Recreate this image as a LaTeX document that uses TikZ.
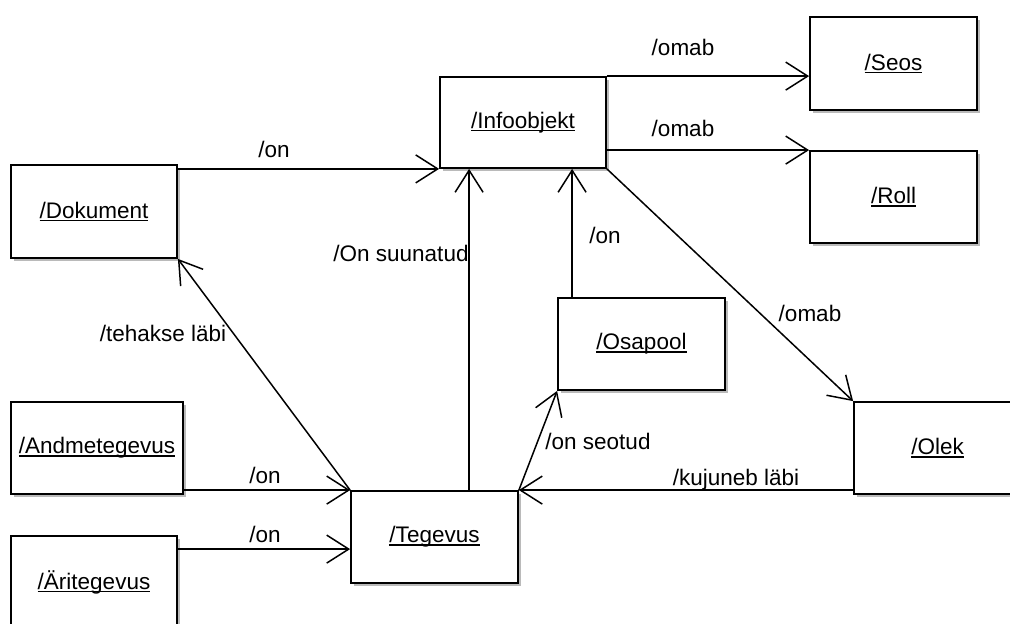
\documentclass[tikz,border=0pt]{standalone}
\usepackage{fontspec}
\setmainfont{Liberation Sans}
\usetikzlibrary{arrows.meta,shadows}

% underlined class name with a fixed rule depth
\newcommand\ulbl[1]{\setbox0=\hbox{#1}\rlap{\rule[-2.8pt]{\wd0}{1.4pt}}\box0}

\tikzset{
  cls/.style={draw, line width=1.8pt, fill=white, minimum height=92pt,
    minimum width=167pt, inner sep=0pt,
    font=\fontsize{22.5}{26}\selectfont,
    drop shadow={shadow xshift=2.5pt, shadow yshift=-2.5pt, fill=black!45, opacity=0.6}},
  lbl/.style={font=\fontsize{22.5}{26}\selectfont, inner sep=0pt},
  rel/.style={line width=1.5pt, -{Straight Barb[length=22pt,width=28pt]}},
}

\begin{document}
\begin{tikzpicture}[x=1pt,y=-1pt]
  \useasboundingbox (0,0) rectangle (1010,624);
  \clip (0,0) rectangle (1010,624);
  \fill[white] (0,0) rectangle (1010,624);

  % classes
  \node[cls, minimum width=166pt, minimum height=91pt] (info) at (523,122.5) {\ulbl{/Infoobjekt}};
  \node[cls, minimum height=93pt] (seos) at (893.5,63.5) {\ulbl{/Seos}};
  \node[cls] (roll) at (893.5,197) {\ulbl{/Roll}};
  \node[cls, minimum width=166pt, minimum height=93pt] (dok) at (94,211.5) {\ulbl{/Dokument}};
  \node[cls] (osa) at (641.5,344) {\ulbl{/Osapool}};
  \node[cls, minimum width=172pt] (andme) at (97,448) {\ulbl{/Andmetegevus}};
  \node[cls, minimum width=166pt, minimum height=100pt] (ari) at (94,586) {\raisebox{12pt}{\ulbl{/Äritegevus}}};
  \node[cls] (teg) at (434.5,537) {\ulbl{/Tegevus}};
  \node[cls] (olek) at (937.5,448) {\ulbl{/Olek}};

  % attachment points
  \coordinate (osaTop) at ([xshift=15pt]osa.north west);
  \coordinate (infoBot) at ([xshift=30pt]info.south west);
  \coordinate (ariOut) at ([yshift=-14pt]ari.north east);

  % relations
  \draw[rel] (dok.north east |- info.south west) -- (info.south west);
  \draw[rel] (info.north east) -- (info.north east -| seos.west);
  \draw[rel] (info.east |- roll.north west) -- (roll.north west);
  \draw[rel] (info.south east) -- (olek.north west);
  \draw[rel] (osaTop) -- (osaTop |- info.south);
  \draw[rel] (infoBot |- teg.north) -- (infoBot);
  \draw[rel] (teg.north west) -- (dok.south east);
  \draw[rel] (teg.north west -| andme.east) -- (teg.north west);
  \draw[rel] (ariOut) -- (ariOut -| teg.west);
  \draw[rel] (teg.north east) -- (osa.south west);
  \draw[rel] (olek.west |- teg.north east) -- (teg.north east);

  % relation labels
  \node[lbl] (l1) at (274,149) {/on};
  \node[lbl] (l2) at (683,47) {/omab};
  \node[lbl] (l3) at (683,128) {/omab};
  \node[lbl] (l4) at (401,253) {/On suunatud};
  \node[lbl] (l5) at (605,235) {/on};
  \node[lbl] (l6) at (810,313) {/omab};
  \node[lbl] (l7) at (163,333) {/tehakse läbi};
  \node[lbl] (l8) at (598,441) {/on seotud};
  \node[lbl] (l9) at (736,480) {/kujuneb läbi};
  \node[lbl] (l10) at (265,475) {/on};
  \node[lbl] (l11) at (265,534) {/on};
\end{tikzpicture}
\end{document}
